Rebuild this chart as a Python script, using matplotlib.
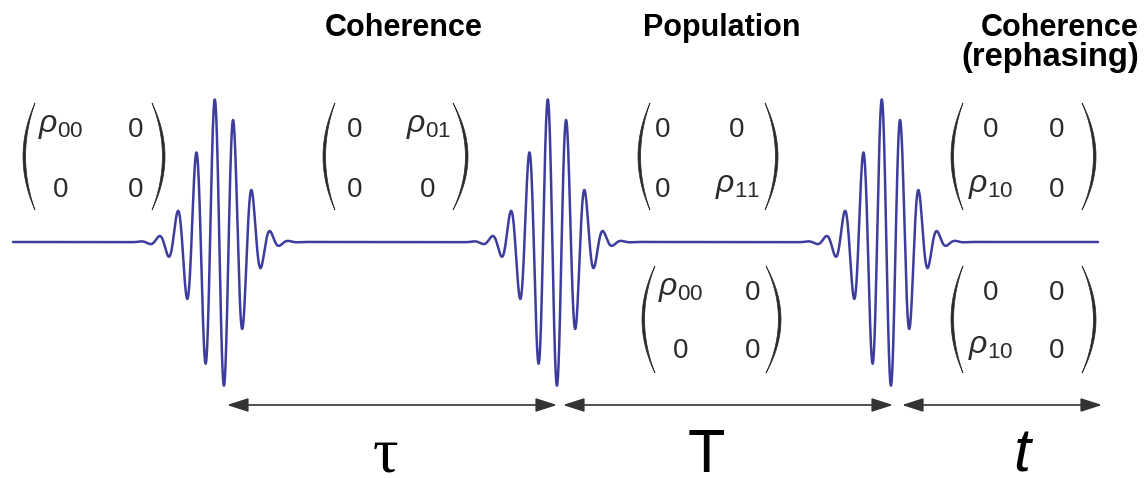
import numpy as np
import matplotlib
matplotlib.use("Agg")
import matplotlib.pyplot as plt
from matplotlib.patches import Polygon, FancyArrowPatch

plt.rcParams["font.family"] = ["Liberation Sans", "DejaVu Sans"]
plt.rcParams["mathtext.fontset"] = "custom"
plt.rcParams["mathtext.rm"] = "Liberation Sans"
plt.rcParams["mathtext.it"] = "Liberation Sans:italic"
plt.rcParams["mathtext.bf"] = "Liberation Sans:bold"

# ---- data -------------------------------------------------------------
# pulse arrival positions (strongest trough of each pulse), drawing units
pulse_times = [224, 557, 891]
pulse_amplitude = 146
pulse_sigma_left = 24
pulse_sigma_right = 22
carrier_period = 18.6

# delay intervals between pulses and their symbols
delay_spans = [(227, 557), (563, 893), (902, 1102)]
delay_labels = ["\u03c4", "T", "t"]

# stage titles
stage_titles = ["Coherence", "Population", "Coherence", "(rephasing)"]

# density matrices shown in each stage
rho_ground = [[r"$\rho_{00}$", "0"], ["0", "0"]]
rho_coh01 = [["0", r"$\rho_{01}$"], ["0", "0"]]
rho_pop11 = [["0", "0"], ["0", r"$\rho_{11}$"]]
rho_pop00 = [[r"$\rho_{00}$", "0"], ["0", "0"]]
rho_coh10a = [["0", "0"], [r"$\rho_{10}$", "0"]]
rho_coh10b = [["0", "0"], [r"$\rho_{10}$", "0"]]

# ---- layout -----------------------------------------------------------
W, H = 1145, 478
fig = plt.figure(figsize=(W / 100, H / 100), dpi=100)
ax = fig.add_axes([0, 0, 1, 1])
ax.set_xlim(0, W)
ax.set_ylim(H, 0)
ax.axis("off")

wave_color = "#3d3d9e"
ink = "#2b2b2b"
baseline_y = 242

# pulse train
x = np.linspace(13, 1098, 6000)
disp = np.zeros_like(x)
for c in pulse_times:
    centre = c - 4
    sig = np.where(x < centre, pulse_sigma_left, pulse_sigma_right)
    env = np.exp(-((x - centre) ** 2) / (2 * sig ** 2))
    disp += pulse_amplitude * env * np.cos(2 * np.pi * (x - c) / carrier_period)
ax.plot(x, baseline_y + disp, color=wave_color, lw=1.8, solid_capstyle="round")

# delay arrows with symbols
label_x = [385, 706, 1022]
label_style = [dict(family="Liberation Serif", size=46),
               dict(family="Liberation Sans", size=44),
               dict(family="Liberation Sans", size=44, style="italic")]
for (x0, x1), lab, lx, st in zip(delay_spans, delay_labels, label_x, label_style):
    arr = FancyArrowPatch((x0, 405), (x1, 405),
                          arrowstyle="<|-|>,head_length=1.3,head_width=0.42",
                          mutation_scale=10, color="#333333", lw=1.2,
                          shrinkA=0, shrinkB=0)
    ax.add_patch(arr)
    ax.text(lx, 472, lab, ha="center", va="baseline", color="black", **st)

# stage titles
title_kw = dict(weight="bold", color="black", va="baseline")
ax.text(404, 36, stage_titles[0], ha="center", size=22, **title_kw)
ax.text(722, 36, stage_titles[1], ha="center", size=22, **title_kw)
ax.text(1139, 36, stage_titles[2], ha="right", size=22, **title_kw)
ax.text(1139, 66, stage_titles[3], ha="right", size=23.5, **title_kw)


def paren(xm, xe, y0, y1, side):
    """Tapered bracket: xm is the bulge position, xe the tip position."""
    t = np.linspace(-1, 1, 80)
    ym = 0.5 * (y0 + y1)
    half = 0.5 * (y1 - y0)
    depth_out = abs(xe - xm)
    depth_in = depth_out - 2.6
    sgn = 1 if side == "left" else -1
    yy = ym + half * t
    outer = xe - sgn * depth_out * (1 - t ** 2)
    inner = xe - sgn * depth_in * (1 - t ** 2)
    pts = np.column_stack([np.r_[outer, inner[::-1]], np.r_[yy, yy[::-1]]])
    ax.add_patch(Polygon(pts, closed=True, fc=ink, ec=ink, lw=0.5))


def matrix(entries, cols, rows, lpar, rpar, ytop, ybot):
    paren(lpar[0], lpar[1], ytop, ybot, "left")
    paren(rpar[1], rpar[0], ytop, ybot, "right")
    for r, row in enumerate(entries):
        for c, val in enumerate(row):
            if val.startswith("$"):
                ax.text(cols[c], rows[r] - 5, val, ha="center", va="baseline",
                        size=23, color=ink)
            else:
                ax.text(cols[c], rows[r], val, ha="center", va="baseline",
                        size=20, color=ink)


matrix(rho_ground, [61, 136], [137, 197], (23, 35), (152, 165), 103, 210)
matrix(rho_coh01, [355, 428], [137, 197], (323, 335), (453, 468), 103, 210)
matrix(rho_pop11, [663, 737], [137, 197], (638, 650), (765, 778), 103, 210)
matrix(rho_pop00, [681, 753], [300, 358], (642, 655), (766, 781), 266, 373)
matrix(rho_coh10a, [991, 1057], [137, 197], (951, 963), (1082, 1096), 103, 210)
matrix(rho_coh10b, [991, 1057], [300, 358], (951, 963), (1082, 1096), 266, 373)

fig.savefig("out.png", dpi=100)
